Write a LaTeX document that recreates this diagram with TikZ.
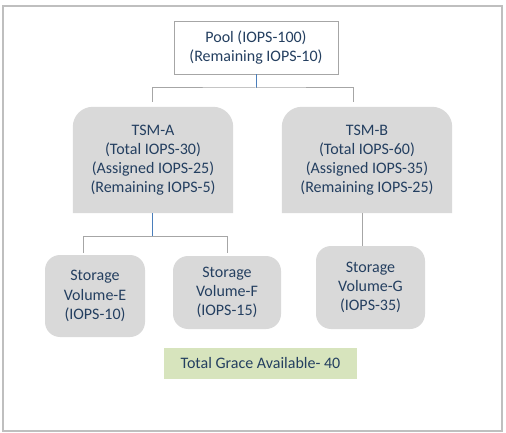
\documentclass[tikz,border=0pt]{standalone}
\usepackage{fontspec}
\setmainfont{Carlito}
\usetikzlibrary{positioning}
\usetikzlibrary{backgrounds}
\definecolor{boxText}{HTML}{243F60}
\definecolor{boxGray}{HTML}{D9D9D9}
\definecolor{graceGreen}{HTML}{D7E4BD}
\definecolor{linkBlue}{HTML}{4A7EBB}
\definecolor{linkGray}{HTML}{A6A6A6}
\definecolor{frameGray}{HTML}{BFBFBF}
\tikzset{%
	% Specifications for style of nodes:
	base/.style = {rectangle, inner sep=0pt, align=center, text=boxText,
		font=\fontsize{16}{19.2}\selectfont},
	pool/.style = {base, draw=linkGray, fill=white,
		minimum width=164pt, minimum height=53pt},
	tsm/.style = {base, minimum height=106pt},
	volume/.style = {base, fill=boxGray, rounded corners=15pt},
	grace/.style = {base, fill=graceGreen, minimum width=193pt, minimum height=31pt},
	% Specifications for style of connectors:
	grayLink/.style = {draw=linkGray, line width=1pt},
	blueLink/.style = {draw=linkBlue, line width=1pt},
}

\begin{document}
\begin{tikzpicture}[x=1pt, y=1pt]
	\useasboundingbox (0,0) rectangle (506,-433);
	\draw[frameGray, line width=1.5pt] (3,-6) rectangle (502,-431);
	
	\node (pool) [pool] at (256,-47.5) {Pool (IOPS-100)\\(Remaining IOPS-10)};
	\node (tsmA) [tsm, minimum width=160pt] at (153,-160) {TSM-A\\(Total IOPS-30)\\(Assigned IOPS-25)\\(Remaining IOPS-5)};
	\node (tsmB) [tsm, minimum width=170pt] at (367,-160) {TSM-B\\(Total IOPS-60)\\(Assigned IOPS-35)\\(Remaining IOPS-25)};
	\begin{scope}[on background layer]
		\foreach \n in {tsmA,tsmB}
		\fill[boxGray] (\n.south west) -- ([yshift=-20pt]\n.north west)
			arc[start angle=180, end angle=90, radius=20pt] -- ([xshift=-20pt]\n.north east)
			arc[start angle=90, end angle=0, radius=20pt] -- (\n.south east) -- cycle;
	\end{scope}
	
	\node (volE) [volume, minimum width=100pt, minimum height=82pt] at (95,-296) {Storage\\Volume-E\\(IOPS-10)};
	\node (volF) [volume, minimum width=108pt, minimum height=73pt] at (227,-292.5) {Storage\\Volume-F\\(IOPS-15)};
	\node (volG) [volume, minimum width=109pt, minimum height=83pt] at (370.5,-287.5) {Storage\\Volume-G\\(IOPS-35)};
	\node (grace) [grace] at (260.5,-363.5) {Total Grace Available- 40};
	
	% pool to the two TSMs
	\coordinate (poolJoin) at (256,-88);
	\draw[blueLink] (pool.south) -- (poolJoin);
	\draw[grayLink] ([xshift=-1pt,yshift=5pt]tsmA.north) |- (poolJoin) -| ([xshift=-14pt,yshift=5pt]tsmB.north);
	
	% TSM-A to its volumes
	\coordinate (tsmAJoin) at ([xshift=-1pt,yshift=-23pt]tsmA.south);
	\draw[blueLink] ([xshift=-1pt]tsmA.south) -- (tsmAJoin);
	\draw[grayLink] ([xshift=-12pt,yshift=2pt]volE.north) |- (tsmAJoin) -| ([yshift=3pt]volF.north);
	
	% TSM-B to its volume
	\draw[grayLink] ([xshift=-5pt]tsmB.south) -- ([xshift=-5pt]tsmB.south |- volG.north);
\end{tikzpicture}
\end{document}
